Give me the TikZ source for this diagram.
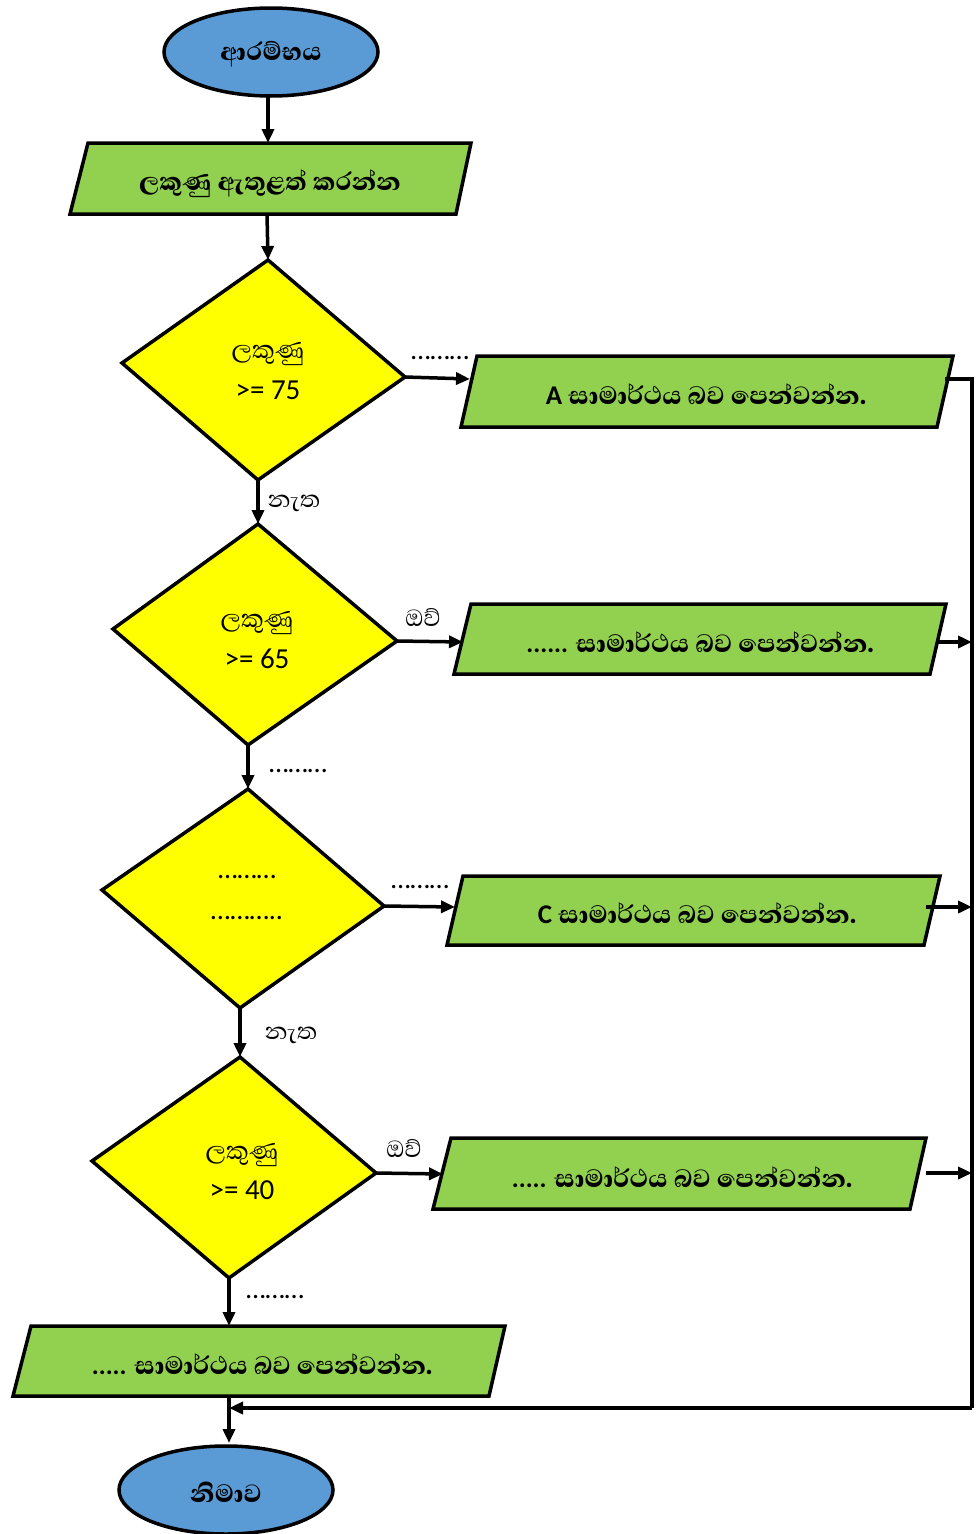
\documentclass[tikz,border=0pt]{standalone}
\usepackage{fontspec}
\setmainfont{Carlito}
\newfontfamily\sinhf[Script=Sinhala,BoldFont={Abhaya Libre ExtraBold}]{Abhaya Libre}
\usetikzlibrary{arrows.meta}
\definecolor{blu}{HTML}{5B9BD5}
\definecolor{grn}{HTML}{92D050}
\definecolor{yel}{HTML}{FFFF00}
\begin{document}
\begin{tikzpicture}[x=1pt,y=-1pt,
  shp/.style={line width=3.5pt,line join=miter,draw=black},
  conn/.style={line width=3.5pt,-{Triangle[length=14pt,width=12pt]}},
  wire/.style={line width=3.5pt},
  sb/.style={font=\sinhf\bfseries\fontsize{32}{36}\selectfont,inner sep=0pt},
  sr/.style={font=\sinhf\fontsize{30}{34}\selectfont,inner sep=0pt},
  sd/.style={font=\sinhf\fontsize{32}{36}\selectfont,inner sep=0pt},
  num/.style={font=\fontsize{29}{33}\selectfont,inner sep=0pt},
  dots/.style={font=\fontsize{28}{32}\selectfont,inner sep=0pt}]
\useasboundingbox (0,0) rectangle (978,1534);
% start
\draw[shp,fill=blu] (271,52) ellipse [x radius=107pt,y radius=44pt];
\node[sb] (tstart) at (271,54) {ආරම්භය};
\coordinate (sb) at (268,96);
% input box
\coordinate (p1t) at (268,143);
\coordinate (p1b) at (267,214);
\draw[shp,fill=grn] (88,143)--(471,143)--(456,214)--(70,214)--cycle;
\node[sb] (tin) at (270,184) {ලකුණු ඇතුළත් කරන්න};
% diamond 1
\coordinate (d1t) at (268,260); \coordinate (d1r) at (405,377);
\coordinate (d1b) at (258,480); \coordinate (d1l) at (122,363);
\draw[shp,fill=yel] (d1t)--(d1r)--(d1b)--(d1l)--cycle;
\node[sd] (d1a) at (268,354) {ලකුණු};
\node[num] (d1n) at (268,390) {>= 75};
% box A
\draw[shp,fill=grn] (477,356)--(953,356)--(937,427)--(461,427)--cycle;
\coordinate (pAl) at (470,379); \coordinate (pAr) at (945,379);
\node[inner sep=0pt] (tA) at (706,394) {\bfseries\fontsize{27}{30}\selectfont A \sinhf\fontsize{32}{36}\selectfont සාමාර්ථය බව පෙන්වන්න.};
% diamond 2
\coordinate (d2t) at (258,524); \coordinate (d2r) at (397,641);
\coordinate (d2b) at (248,745); \coordinate (d2l) at (113,629);
\draw[shp,fill=yel] (d2t)--(d2r)--(d2b)--(d2l)--cycle;
\node[sd] (d2a) at (257,623) {ලකුණු};
\node[num] (d2n) at (257,659) {>= 65};
% box B
\draw[shp,fill=grn] (471,604)--(946,604)--(930,674)--(454,674)--cycle;
\coordinate (pBl) at (463,642); \coordinate (pBr) at (938,642);
\node[inner sep=0pt] (tB) at (700,642) {\bfseries\fontsize{26}{30}\selectfont ...... \sinhf\fontsize{32}{36}\selectfont සාමාර්ථය බව පෙන්වන්න.};
% diamond 3
\coordinate (d3t) at (248,789); \coordinate (d3r) at (384,906);
\coordinate (d3b) at (240,1008); \coordinate (d3l) at (102,890);
\draw[shp,fill=yel] (d3t)--(d3r)--(d3b)--(d3l)--cycle;
\node[dots] (d3a) at (247,877) {………};
\node[dots] (d3n) at (247,918) {………..};
% box C
\draw[shp,fill=grn] (463,876)--(940,876)--(924,945)--(447,945)--cycle;
\coordinate (pCl) at (455,907); \coordinate (pCr) at (926,907);
\node[inner sep=0pt] (tC) at (697,913) {\bfseries\fontsize{27}{30}\selectfont C \sinhf\fontsize{32}{36}\selectfont සාමාර්ථය බව පෙන්වන්න.};
% diamond 4
\coordinate (d4t) at (240,1057); \coordinate (d4r) at (376,1173);
\coordinate (d4b) at (229,1278); \coordinate (d4l) at (92,1161);
\draw[shp,fill=yel] (d4t)--(d4r)--(d4b)--(d4l)--cycle;
\node[sd] (d4a) at (242,1155) {ලකුණු};
\node[num] (d4n) at (242,1190) {>= 40};
% box D
\draw[shp,fill=grn] (451,1138)--(926,1138)--(910,1209)--(433,1209)--cycle;
\coordinate (pDl) at (443,1174); \coordinate (pDr) at (926,1173);
\node[inner sep=0pt] (tD) at (682,1177) {\bfseries\fontsize{26}{30}\selectfont ..... \sinhf\fontsize{32}{36}\selectfont සාමාර්ථය බව පෙන්වන්න.};
% box E
\draw[shp,fill=grn] (31,1326)--(505,1326)--(489,1396)--(13,1396)--cycle;
\coordinate (pEt) at (229,1326); \coordinate (pEb) at (229,1396);
\node[inner sep=0pt] (tE) at (262,1364) {\bfseries\fontsize{26}{30}\selectfont ..... \sinhf\fontsize{32}{36}\selectfont සාමාර්ථය බව පෙන්වන්න.};
% end
\draw[shp,fill=blu] (226,1490) ellipse [x radius=107pt,y radius=44pt];
\node[sb] (tend) at (226,1492) {නිමාව};
\coordinate (et) at (229,1443);
% bus
\coordinate (busA) at (972,379);
\coordinate (busB) at (972,642);
\coordinate (busC) at (972,907);
\coordinate (busD) at (972,1173);
\coordinate (busE) at (972,1408);
\coordinate (join) at (229,1408);
% connectors
\draw[conn] (sb) -- (p1t);
\draw[conn] (p1b) -- (d1t);
\draw[conn] (d1r) -- (pAl);
\draw[conn] (d1b) -- (d2t);
\draw[conn] (d2r) -- (pBl);
\draw[conn] (d2b) -- (d3t);
\draw[conn] (d3r) -- (pCl);
\draw[conn] (d3b) -- (d4t);
\draw[conn] (d4r) -- (pDl);
\draw[conn] (d4b) -- (pEt);
\draw[conn] (pEb) -- (et);
\draw[wire,line join=miter] (pAr) -- (busA) -- (busE);
\draw[conn] (busE) -- (join);
\draw[conn] (pBr) -- (busB);
\draw[conn] (pCr) -- (busC);
\draw[conn] (pDr) -- (busD);
% labels
\node[dots] (l1) at (440,358) {………};
\node[sr] (l2) at (294,503) {නැත};
\node[sr] (l3) at (423,617) {ඔව්};
\node[dots] (l4) at (298,771) {………};
\node[dots] (l5) at (420,887) {………};
\node[sr] (l6) at (291,1035) {නැත};
\node[sr] (l7) at (404,1148) {ඔව්};
\node[dots] (l8) at (275,1297) {………};
\end{tikzpicture}
\end{document}
